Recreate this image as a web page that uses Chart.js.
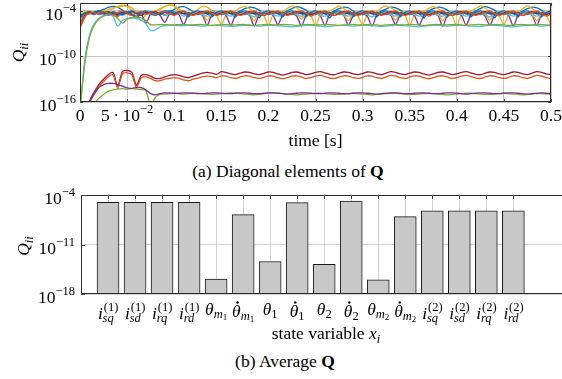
<!DOCTYPE html>
<html>
<head>
<meta charset="utf-8">
<script src="https://cdn.jsdelivr.net/npm/chart.js@4.4.1/dist/chart.umd.min.js"></script>
<style>
  html, body { margin: 0; padding: 0; background: #fff; }
  body { width: 562px; height: 379px; position: relative; overflow: hidden; font-family: "Liberation Serif", "Times New Roman", serif; }
  canvas { position: absolute; left: 0; }
  #diagChart { top: 0; }
  #avgChart { top: 185px; }
  .cap { position: absolute; font-size: 17.5px; line-height: 1; color: #000; white-space: nowrap; transform: translateX(-50%); }
</style>
</head>
<body>
<canvas id="diagChart" width="562" height="155"></canvas>
<div class="cap" style="left:288px; top:163px">(a) Diagonal elements of <b>Q</b></div>
<canvas id="avgChart" width="562" height="160"></canvas>
<div class="cap" style="left:285px; top:353px">(b) Average <b>Q</b></div>
<script>
const timeS = [0,0.005,0.01,0.015,0.02,0.025,0.03,0.035,0.04,0.045,
  0.05,0.055,0.06,0.065,0.07,0.075,0.08,0.085,0.09,0.095,
  0.1,0.105,0.11,0.115,0.12,0.125,0.13,0.135,0.14,0.145,
  0.15,0.155,0.16,0.165,0.17,0.175,0.18,0.185,0.19,0.195,
  0.2,0.205,0.21,0.215,0.22,0.225,0.23,0.235,0.24,0.245,
  0.25,0.255,0.26,0.265,0.27,0.275,0.28,0.285,0.29,0.295,
  0.3,0.305,0.31,0.315,0.32,0.325,0.33,0.335,0.34,0.345,
  0.35,0.355,0.36,0.365,0.37,0.375,0.38,0.385,0.39,0.395,
  0.4,0.405,0.41,0.415,0.42,0.425,0.43,0.435,0.44,0.445,
  0.45,0.455,0.46,0.465,0.47,0.475,0.48,0.485,0.49,0.495,0.5];

const qIsq1 = [-4.8,-4.2,-4.1,-4.1,-4.0,-3.8,-3.55,-3.4,-3.5,-3.9,-4.3,-4.1,-4.4,-4.2,-4.0,-4.3,-4.5,-4.2,-4.0,-4.1,-3.8,-3.5,
  -3.45,-3.7,-4.1,-4.3,-4.1,-4.4,-4.0,-4.2,
  -4.2,-4.4,-4.1,-4.3,-4.0,-3.7,-3.5,-3.6,-3.9,-4.3,
  -4.2,-4.4,-4.1,-4.3,-4.0,-3.7,-3.45,-3.6,-3.9,-4.3,
  -4.2,-4.5,-4.1,-4.3,-4.0,-3.7,-3.5,-3.6,-4.0,-4.3,
  -4.2,-4.4,-4.1,-4.3,-4.0,-3.75,-3.5,-3.6,-3.9,-4.3,
  -4.2,-4.4,-4.1,-4.3,-4.0,-3.7,-3.5,-3.6,-3.9,-4.3,
  -4.2,-4.5,-4.1,-4.3,-4.0,-3.7,-3.45,-3.6,-3.9,-4.3,
  -4.2,-4.4,-4.1,-4.3,-4.0,-3.7,-3.5,-3.6,-3.9,-4.3,-4.2];
const qIsd1 = [-6.3,-4.9,-4.2,-4.4,-4.1,-4.3,-4.2,-4.5,-4.8,-4.2,-4.3,-4.6,-4.2,-4.4,-4.1,-4.5,-4.3,-4.2,-4.6,-4.3,-4.1,-4.4,
  -4.15,-4.6,-4.3,-4.2,-4.5,-4.15,-4.6,-4.3,
  -4.2,-4.5,-4.15,-4.6,-4.3,-4.2,-4.5,-4.1,-4.7,-4.3,
  -4.2,-4.5,-4.15,-4.6,-4.3,-4.2,-4.5,-4.15,-4.6,-4.3,
  -4.2,-4.6,-4.15,-4.6,-4.3,-4.2,-4.5,-4.15,-4.7,-4.3,
  -4.2,-4.5,-4.1,-4.6,-4.3,-4.2,-4.5,-4.15,-4.6,-4.3,
  -4.2,-4.5,-4.15,-4.6,-4.3,-4.2,-4.6,-4.15,-4.6,-4.3,
  -4.2,-4.5,-4.15,-4.7,-4.3,-4.2,-4.5,-4.15,-4.6,-4.3,
  -4.2,-4.5,-4.15,-4.6,-4.3,-4.2,-4.5,-4.1,-4.6,-4.3,-4.2];
const qIrq1 = [-4.5,-4.3,-4.2,-4.2,-4.3,-4.2,-4.0,-3.7,-3.4,-3.25,-3.4,-3.9,-4.4,-5.3,-4.5,-4.3,-4.1,-3.8,-3.45,-3.25,-3.4,-3.9,
  -4.3,-4.4,-4.2,-3.8,-3.4,-3.5,-4.0,-4.6,
  -5.8,-4.5,-4.2,-4.0,-3.6,-3.4,-3.7,-4.1,-4.3,-4.6,
  -5.9,-4.5,-4.2,-4.1,-3.7,-3.35,-3.6,-4.1,-4.3,-4.6,
  -6.0,-4.5,-4.2,-4.0,-3.7,-3.35,-3.7,-4.1,-4.3,-4.7,
  -5.8,-4.5,-4.2,-4.1,-3.6,-3.35,-3.6,-4.0,-4.3,-4.6,
  -5.9,-4.5,-4.2,-4.1,-3.7,-3.4,-3.7,-4.1,-4.3,-4.6,
  -6.0,-4.4,-4.2,-4.0,-3.7,-3.35,-3.6,-4.1,-4.3,-4.7,
  -5.8,-4.5,-4.2,-4.1,-3.7,-3.35,-3.7,-4.1,-4.3,-4.6,-5.9];
const qIrd1 = [-5.0,-4.4,-4.3,-4.5,-4.2,-4.3,-4.6,-4.3,-4.2,-4.4,-4.3,-4.5,-4.9,-4.4,-5.6,-4.4,-4.2,-4.6,-5.5,-4.4,-4.3,-4.5,
  -5.8,-4.5,-4.2,-4.3,-4.6,-5.9,-4.5,-4.2,
  -4.3,-4.6,-5.9,-4.6,-4.2,-4.3,-4.6,-6.0,-4.5,-4.2,
  -4.3,-4.6,-5.8,-4.6,-4.2,-4.3,-4.7,-6.0,-4.6,-4.2,
  -4.3,-4.6,-5.9,-4.5,-4.2,-4.3,-4.6,-5.9,-4.6,-4.2,
  -4.3,-4.7,-6.0,-4.6,-4.2,-4.3,-4.6,-5.8,-4.5,-4.2,
  -4.3,-4.6,-5.9,-4.6,-4.2,-4.3,-4.6,-6.0,-4.6,-4.2,
  -4.3,-4.6,-5.9,-4.5,-4.2,-4.3,-4.7,-5.9,-4.6,-4.2,
  -4.3,-4.6,-6.0,-4.6,-4.2,-4.3,-4.6,-5.9,-4.5,-4.2,-4.3];
const qThm1 = [-18,-18,-17,-16.2,-15.5,-15.0,-14.6,-14.4,-14.3,-14.25,-14.3,-14.25,-14.3,-14.35,-14.5,-16.5,-15.4,-15.0,-14.95,-14.9,-14.85,-14.9,
  -14.95,-14.9,-14.85,-14.85,-14.9,-14.95,-15.0,-14.95,
  -14.9,-14.85,-14.8,-14.85,-14.9,-14.95,-15.0,-15.05,-15.0,-14.9,
  -14.85,-14.8,-14.85,-14.9,-14.95,-15.0,-15.05,-15.0,-14.95,-14.9,
  -14.85,-14.85,-14.9,-14.95,-15.0,-15.0,-14.95,-14.9,-14.85,-14.9,
  -14.95,-15.0,-15.05,-15.0,-14.95,-14.9,-14.85,-14.85,-14.9,-14.95,
  -15.0,-15.0,-14.95,-14.9,-14.85,-14.9,-14.95,-15.0,-15.05,-15.0,
  -14.95,-14.9,-14.85,-14.85,-14.9,-14.95,-15.0,-15.0,-14.95,-14.9,
  -14.85,-14.9,-14.95,-15.0,-15.05,-15.0,-14.95,-14.9,-14.9,-14.95,-15.0];
const qDthm1 = [-17,-10.5,-7.2,-5.7,-5.0,-4.6,-4.5,-4.7,-6.0,-5.3,-5.0,-4.9,-5.0,-5.2,-5.7,-6.6,-6.5,-6.1,-5.95,-5.9,-5.9,-5.95,
  -5.95,-5.9,-5.9,-5.95,-6.0,-5.95,-5.9,-5.9,
  -5.95,-6.0,-6.05,-6.0,-5.95,-5.9,-5.9,-5.95,-6.0,-5.95,
  -5.9,-5.9,-5.95,-6.0,-6.05,-6.1,-6.05,-5.95,-5.9,-5.9,
  -5.95,-6.0,-6.1,-6.05,-5.95,-5.9,-5.9,-5.95,-6.0,-5.95,
  -5.9,-5.9,-5.95,-6.0,-6.05,-6.0,-5.95,-5.9,-5.9,-5.95,
  -6.0,-6.05,-6.1,-6.0,-5.95,-5.9,-5.9,-5.95,-6.0,-5.95,
  -5.9,-5.9,-5.95,-6.0,-6.05,-6.05,-5.95,-5.9,-5.9,-5.95,
  -6.0,-6.05,-6.1,-6.0,-5.95,-5.9,-5.9,-5.95,-6.0,-5.95,-5.9];
const qTh1 = [-18,-17.5,-15.9,-14.7,-13.7,-13.0,-12.4,-12.1,-13.9,-12.0,-11.85,-12.1,-13.8,-12.5,-12.4,-12.6,-12.9,-12.9,-12.7,-12.5,-12.4,-12.5,
  -12.7,-12.8,-12.6,-12.4,-12.2,-12.1,-12.2,-12.35,
  -12.0,-12.1,-12.3,-12.4,-12.2,-12.05,-12.1,-12.3,-12.4,-12.25,
  -12.05,-12.1,-12.3,-12.45,-12.3,-12.1,-12.05,-12.2,-12.4,-12.3,
  -12.1,-12.0,-12.15,-12.35,-12.4,-12.2,-12.05,-12.1,-12.3,-12.4,
  -12.25,-12.05,-12.1,-12.3,-12.4,-12.2,-12.0,-12.1,-12.3,-12.4,
  -12.2,-12.05,-12.1,-12.3,-12.45,-12.3,-12.1,-12.05,-12.2,-12.4,
  -12.3,-12.1,-12.0,-12.15,-12.35,-12.4,-12.2,-12.05,-12.1,-12.3,
  -12.4,-12.25,-12.05,-12.1,-12.3,-12.4,-12.2,-12.0,-12.1,-12.3,-12.4];
const qDth1 = [-4.6,-4.3,-4.4,-4.2,-4.5,-4.3,-4.1,-4.3,-4.6,-4.2,-4.1,-4.4,-4.7,-4.3,-4.2,-4.4,-4.6,-4.3,-4.2,-4.5,-4.3,-4.1,
  -4.3,-4.8,-4.2,-4.5,-4.1,-4.3,-4.8,-4.2,
  -4.5,-4.1,-4.3,-4.8,-4.2,-4.5,-4.1,-4.3,-4.9,-4.2,
  -4.5,-4.1,-4.3,-4.8,-4.2,-4.5,-4.1,-4.3,-4.8,-4.2,
  -4.5,-4.1,-4.3,-4.9,-4.2,-4.5,-4.1,-4.3,-4.8,-4.2,
  -4.5,-4.1,-4.3,-4.8,-4.2,-4.5,-4.1,-4.3,-4.8,-4.2,
  -4.5,-4.1,-4.3,-4.9,-4.2,-4.5,-4.1,-4.3,-4.8,-4.2,
  -4.5,-4.1,-4.3,-4.8,-4.2,-4.5,-4.1,-4.3,-4.9,-4.2,
  -4.5,-4.1,-4.3,-4.8,-4.2,-4.5,-4.1,-4.3,-4.8,-4.2,-4.5];
const qTh2 = [-18,-17.8,-16.2,-15.0,-14.0,-13.3,-12.7,-12.4,-14.2,-12.3,-12.15,-12.4,-14.1,-12.8,-12.7,-12.9,-13.2,-13.2,-13.0,-12.9,-12.8,-12.9,
  -13.1,-13.2,-13.0,-12.85,-12.7,-12.6,-12.65,-12.8,
  -12.55,-12.6,-12.8,-12.9,-12.7,-12.55,-12.6,-12.8,-12.9,-12.75,
  -12.55,-12.6,-12.8,-12.95,-12.8,-12.6,-12.55,-12.7,-12.9,-12.8,
  -12.6,-12.5,-12.65,-12.85,-12.9,-12.7,-12.55,-12.6,-12.8,-12.9,
  -12.75,-12.55,-12.6,-12.8,-12.9,-12.7,-12.5,-12.6,-12.8,-12.9,
  -12.7,-12.55,-12.6,-12.8,-12.95,-12.8,-12.6,-12.55,-12.7,-12.9,
  -12.8,-12.6,-12.5,-12.65,-12.85,-12.9,-12.7,-12.55,-12.6,-12.8,
  -12.9,-12.75,-12.55,-12.6,-12.8,-12.9,-12.7,-12.5,-12.6,-12.8,-12.9];
const qDth2 = [-4.4,-4.1,-4.0,-4.2,-4.4,-4.0,-3.8,-3.6,-3.5,-3.4,-3.3,-3.6,-4.2,-4.5,-4.3,-4.2,-4.0,-3.7,-3.4,-3.2,-3.3,-3.7,
  -4.2,-4.4,-4.3,-4.2,-4.4,-5.2,-4.3,-4.1,
  -4.1,-4.0,-4.2,-4.4,-4.3,-4.2,-4.4,-5.3,-4.3,-4.1,
  -4.1,-4.0,-4.2,-4.4,-4.3,-4.2,-4.4,-5.1,-4.3,-4.1,
  -4.1,-4.0,-4.2,-4.4,-4.3,-4.2,-4.5,-5.3,-4.3,-4.1,
  -4.1,-4.0,-4.2,-4.4,-4.3,-4.2,-4.4,-5.2,-4.3,-4.1,
  -4.1,-4.0,-4.2,-4.4,-4.3,-4.2,-4.4,-5.3,-4.3,-4.1,
  -4.1,-4.0,-4.2,-4.4,-4.3,-4.2,-4.4,-5.2,-4.3,-4.1,
  -4.1,-4.0,-4.2,-4.4,-4.3,-4.2,-4.5,-5.3,-4.3,-4.1,-4.1];
const qThm2 = [-18,-17.5,-16.0,-14.9,-14.1,-13.7,-13.55,-13.55,-13.7,-13.9,-14.15,-14.2,-14.1,-14.1,-14.4,-14.9,-15.05,-14.9,-14.8,-14.8,-14.85,-14.85,
  -14.8,-14.8,-14.85,-14.9,-14.9,-14.85,-14.8,-14.8,
  -14.85,-14.9,-14.9,-14.85,-14.8,-14.8,-14.85,-14.9,-14.9,-14.85,
  -14.8,-14.8,-14.85,-14.9,-14.95,-14.9,-14.85,-14.8,-14.8,-14.85,
  -14.9,-14.9,-14.85,-14.8,-14.8,-14.85,-14.9,-14.9,-14.85,-14.8,
  -14.8,-14.85,-14.9,-14.95,-14.9,-14.85,-14.8,-14.8,-14.85,-14.9,
  -14.9,-14.85,-14.8,-14.8,-14.85,-14.9,-14.9,-14.85,-14.8,-14.8,
  -14.85,-14.9,-14.95,-14.9,-14.85,-14.8,-14.8,-14.85,-14.9,-14.9,
  -14.85,-14.8,-14.8,-14.85,-14.9,-14.95,-14.9,-14.85,-14.8,-14.85,-14.9];
const qDthm2 = [-17,-11,-7.5,-5.9,-5.1,-4.7,-4.5,-4.5,-5.0,-5.6,-5.1,-4.9,-4.8,-4.9,-5.3,-5.8,-5.85,-5.8,-5.8,-5.85,-5.85,-5.8,
  -5.8,-5.85,-5.85,-5.8,-5.8,-5.85,-5.9,-5.85,
  -5.8,-5.8,-5.85,-5.85,-5.8,-5.8,-5.85,-5.9,-5.85,-5.8,
  -5.8,-5.85,-5.85,-5.8,-5.8,-5.85,-5.9,-5.85,-5.8,-5.8,
  -5.85,-5.85,-5.8,-5.8,-5.85,-5.9,-5.85,-5.8,-5.8,-5.85,
  -5.85,-5.8,-5.8,-5.85,-5.9,-5.85,-5.8,-5.8,-5.85,-5.85,
  -5.8,-5.8,-5.85,-5.9,-5.85,-5.8,-5.8,-5.85,-5.85,-5.8,
  -5.8,-5.85,-5.9,-5.85,-5.8,-5.8,-5.85,-5.85,-5.8,-5.8,
  -5.85,-5.9,-5.85,-5.8,-5.8,-5.85,-5.85,-5.8,-5.8,-5.85,-5.9];
const qIsq2 = [-5.5,-4.5,-4.3,-4.4,-4.2,-4.3,-4.5,-4.3,-4.4,-4.6,-4.3,-4.2,-4.4,-4.5,-4.3,-4.4,-4.2,-4.3,-4.5,-4.4,-4.2,-4.3,
  -4.7,-4.4,-4.2,-4.3,-4.5,-4.7,-4.4,-4.2,
  -4.3,-4.5,-4.7,-4.4,-4.2,-4.3,-4.5,-4.8,-4.4,-4.2,
  -4.3,-4.5,-4.7,-4.4,-4.2,-4.3,-4.5,-4.7,-4.4,-4.2,
  -4.3,-4.6,-4.7,-4.4,-4.2,-4.3,-4.5,-4.7,-4.4,-4.2,
  -4.3,-4.5,-4.8,-4.4,-4.2,-4.3,-4.5,-4.7,-4.4,-4.2,
  -4.3,-4.5,-4.7,-4.4,-4.2,-4.3,-4.6,-4.7,-4.4,-4.2,
  -4.3,-4.5,-4.7,-4.4,-4.2,-4.3,-4.5,-4.8,-4.4,-4.2,
  -4.3,-4.5,-4.7,-4.4,-4.2,-4.3,-4.5,-4.7,-4.4,-4.2,-4.3];
const qIsd2 = [-5.8,-4.6,-4.2,-4.3,-4.1,-4.4,-4.2,-4.3,-4.5,-4.2,-4.4,-4.1,-4.3,-4.6,-4.2,-4.3,-4.1,-4.4,-4.2,-4.3,-4.5,-4.2,
  -4.4,-4.2,-4.5,-4.3,-4.1,-4.4,-4.2,-4.5,
  -4.3,-4.1,-4.4,-4.2,-4.5,-4.3,-4.1,-4.4,-4.2,-4.6,
  -4.3,-4.1,-4.4,-4.2,-4.5,-4.3,-4.1,-4.4,-4.2,-4.5,
  -4.3,-4.1,-4.4,-4.2,-4.6,-4.3,-4.1,-4.4,-4.2,-4.5,
  -4.3,-4.1,-4.4,-4.2,-4.5,-4.3,-4.1,-4.4,-4.2,-4.5,
  -4.3,-4.1,-4.4,-4.2,-4.5,-4.3,-4.1,-4.4,-4.2,-4.6,
  -4.3,-4.1,-4.4,-4.2,-4.5,-4.3,-4.1,-4.4,-4.2,-4.5,
  -4.3,-4.1,-4.4,-4.2,-4.6,-4.3,-4.1,-4.4,-4.2,-4.5,-4.3];
const qIrq2 = [-4.9,-4.3,-4.1,-4.3,-4.0,-4.2,-4.4,-4.1,-4.3,-4.5,-4.2,-4.0,-4.3,-4.2,-4.4,-4.1,-4.3,-4.5,-4.2,-4.0,-4.3,-4.1,
  -4.1,-4.5,-4.2,-4.0,-4.3,-4.1,-4.5,-4.2,
  -4.0,-4.3,-4.1,-4.5,-4.2,-4.0,-4.3,-4.1,-4.5,-4.2,
  -4.0,-4.3,-4.1,-4.6,-4.2,-4.0,-4.3,-4.1,-4.5,-4.2,
  -4.0,-4.3,-4.1,-4.5,-4.2,-4.0,-4.3,-4.1,-4.5,-4.2,
  -4.0,-4.3,-4.1,-4.5,-4.2,-4.0,-4.3,-4.1,-4.6,-4.2,
  -4.0,-4.3,-4.1,-4.5,-4.2,-4.0,-4.3,-4.1,-4.5,-4.2,
  -4.0,-4.3,-4.1,-4.5,-4.2,-4.0,-4.3,-4.1,-4.5,-4.2,
  -4.0,-4.3,-4.1,-4.6,-4.2,-4.0,-4.3,-4.1,-4.5,-4.2,-4.0];
const qIrd2 = [-6.0,-4.7,-4.3,-4.2,-4.4,-4.1,-4.3,-4.5,-4.2,-4.0,-4.3,-4.6,-4.2,-4.1,-4.4,-4.3,-4.5,-4.2,-4.1,-4.3,-4.6,-4.2,
  -4.0,-4.3,-4.6,-4.4,-4.2,-4.0,-4.3,-4.6,
  -4.4,-4.2,-4.0,-4.3,-4.6,-4.4,-4.2,-4.0,-4.3,-4.6,
  -4.4,-4.2,-4.0,-4.3,-4.6,-4.4,-4.2,-4.0,-4.3,-4.7,
  -4.4,-4.2,-4.0,-4.3,-4.6,-4.4,-4.2,-4.0,-4.3,-4.6,
  -4.4,-4.2,-4.0,-4.3,-4.6,-4.4,-4.2,-4.0,-4.3,-4.6,
  -4.4,-4.2,-4.0,-4.3,-4.7,-4.4,-4.2,-4.0,-4.3,-4.6,
  -4.4,-4.2,-4.0,-4.3,-4.6,-4.4,-4.2,-4.0,-4.3,-4.6,
  -4.4,-4.2,-4.0,-4.3,-4.6,-4.4,-4.2,-4.0,-4.3,-4.7,-4.4];

const timeTicks = [0, 0.05, 0.1, 0.15, 0.2, 0.25, 0.3, 0.35, 0.4, 0.45, 0.5];
const timeTickLabels = ['0', '5\u2009·\u200910^{−2}', '0.1', '0.15', '0.2', '0.25', '0.3', '0.35', '0.4', '0.45', '0.5'];
const diagTicks = [1e-16, 1e-10, 1e-4];
const diagTickLabels = ['10^{−16}', '10^{−10}', '10^{−4}'];

// ---- data: bottom chart ----
const stateIndex = [1, 2, 3, 4, 5, 6, 7, 8, 9, 10, 11, 12, 13, 14, 15, 16];
const stateLabels = ['i^(1)_sq', 'i^(1)_sd', 'i^(1)_rq', 'i^(1)_rd',
  'θ_m1', 'θ\u0307_m1', 'θ_1', 'θ\u0307_1', 'θ_2', 'θ\u0307_2', 'θ_m2', 'θ\u0307_m2',
  'i^(2)_sq', 'i^(2)_sd', 'i^(2)_rq', 'i^(2)_rd'];
const avgQ = [9.3e-6, 9.3e-6, 9.3e-6, 9.3e-6, 1.26e-16, 1.7e-7, 4.0e-14, 8.3e-6,
  1.6e-14, 1.4e-5, 1.0e-16, 8.9e-8, 5.6e-7, 5.6e-7, 5.6e-7, 5.6e-7];
const avgTicks = [1e-18, 1e-11, 1e-4];
const avgTickLabels = ['10^{−18}', '10^{−11}', '10^{−4}'];

// series in state order, matlab colour order
const diagSeries = [qIsq1, qIsd1, qIrq1, qIrd1, qThm1, qDthm1, qTh1, qDth1,
  qTh2, qDth2, qThm2, qDthm2, qIsq2, qIsd2, qIrq2, qIrd2];
const lineColors = ['#0072BD', '#D95319', '#EDB120', '#7E2F8E', '#77AC30', '#4DBEEE', '#A2142F'];

const SERIF = '"Liberation Serif", "Times New Roman", serif';
const F = 17.5, FS = 12.5, FSS = 9;
function font(size, style) { return (style ? style + ' ' : '') + size + 'px ' + SERIF; }

function runsOf(str) {
  const m = str.match(/^(.*)\^\{(.*)\}$/);
  if (!m) return [{t: str, f: font(F)}];
  return [{t: m[1], f: font(F)}, {t: m[2], f: font(FS), dy: -7.75}];
}

function drawRuns(ctx, runs, x, y, align) {
  let w = 0;
  runs.forEach(r => { ctx.font = r.f; r.w = ctx.measureText(r.t).width; w += r.w; });
  let cx = align === 'right' ? x - w : align === 'center' ? x - w / 2 : x;
  ctx.textAlign = 'left';
  ctx.textBaseline = 'alphabetic';
  runs.forEach(r => { ctx.font = r.f; ctx.fillText(r.t, cx, y + (r.dy || 0)); cx += r.w; });
}

function drawBox(ctx, a, sides) {
  const l = Math.round(a.left) + 0.5, r = Math.round(a.right) - 0.5;
  const t = Math.round(a.top) + 0.5, b = Math.round(a.bottom) - 0.5;
  ctx.strokeStyle = '#2b2b2b';
  ctx.lineWidth = 1;
  ctx.beginPath();
  if (sides.includes('t')) { ctx.moveTo(l, t); ctx.lineTo(r + 0.5, t); }
  if (sides.includes('b')) { ctx.moveTo(l, b); ctx.lineTo(r + 0.5, b); }
  if (sides.includes('l')) { ctx.moveTo(l, t); ctx.lineTo(l, b); }
  if (sides.includes('r')) { ctx.moveTo(r, t); ctx.lineTo(r, b); }
  ctx.stroke();
}

const diagDecor = {
  id: 'diagDecor',
  afterDraw(chart) {
    const {ctx, chartArea: a, scales: {x, y}} = chart;
    ctx.save();
    drawBox(ctx, a, 'tblr');
    ctx.strokeStyle = '#444';
    ctx.beginPath();
    timeTicks.forEach(v => {
      const px = Math.round(x.getPixelForValue(v)) + 0.5;
      ctx.moveTo(px, a.top); ctx.lineTo(px, a.top + 3);
      ctx.moveTo(px, a.bottom); ctx.lineTo(px, a.bottom - 3);
    });
    diagTicks.forEach(v => {
      const py = Math.round(y.getPixelForValue(v)) + 0.5;
      ctx.moveTo(a.left, py); ctx.lineTo(a.left + 3, py);
      ctx.moveTo(a.right, py); ctx.lineTo(a.right - 3, py);
    });
    ctx.stroke();
    ctx.fillStyle = '#000';
    timeTicks.forEach((v, i) => drawRuns(ctx, runsOf(timeTickLabels[i]), x.getPixelForValue(v), a.bottom + 19, 'center'));
    diagTicks.forEach((v, i) => drawRuns(ctx, runsOf(diagTickLabels[i]), a.left - 4, y.getPixelForValue(v) + 9, 'right'));
    drawRuns(ctx, [{t: 'time [s]', f: font(F)}], (a.left + a.right) / 2, 146, 'center');
    ctx.translate(21, (a.top + a.bottom) / 2);
    ctx.rotate(-Math.PI / 2);
    drawRuns(ctx, [{t: 'Q', f: font(F, 'italic')}, {t: 'ii', f: font(FS, 'italic'), dy: 3.5}], 0, 3, 'center');
    ctx.restore();
  }
};

function drawStateLabel(ctx, name, cx) {
  const base = name[0];
  const dot = name[1] === '\u0307';
  const supM = name.match(/\^\(([^)]*)\)/);
  const sub = name.split('_')[1];
  ctx.textAlign = 'left';
  ctx.textBaseline = 'alphabetic';
  ctx.font = font(F, 'italic');
  const bw = ctx.measureText(base).width;
  if (supM) {
    const sup = '(' + supM[1] + ')';
    ctx.font = font(FS); const supW = ctx.measureText(sup).width;
    ctx.font = font(FS, 'italic'); const subW = ctx.measureText(sub).width;
    const w = bw + 0.5 + Math.max(supW, subW);
    const x0 = cx - w / 2, yb = 134;
    ctx.font = font(F, 'italic'); ctx.fillText(base, x0, yb);
    ctx.font = font(FS); ctx.fillText(sup, x0 + bw + 0.8, yb - 8.5);
    ctx.font = font(FS, 'italic'); ctx.fillText(sub, x0 + bw - 0.3, yb + 3);
  } else {
    const yb = dot ? 131.5 : 129.5;
    const digit = /^\d$/.test(sub);
    const subMain = digit ? sub : sub[0];
    const subSub = digit ? '' : sub.slice(1);
    ctx.font = digit ? font(FS) : font(FS, 'italic');
    const sw = ctx.measureText(subMain).width;
    ctx.font = font(FSS);
    const ssw = subSub ? ctx.measureText(subSub).width : 0;
    const w = bw + sw + ssw;
    const x0 = cx - w / 2;
    ctx.font = font(F, 'italic'); ctx.fillText(base, x0, yb);
    ctx.font = digit ? font(FS) : font(FS, 'italic'); ctx.fillText(subMain, x0 + bw, yb + 3.5);
    if (subSub) { ctx.font = font(FSS); ctx.fillText(subSub, x0 + bw + sw, yb + 5.5); }
    if (dot) {
      ctx.beginPath();
      ctx.arc(x0 + bw / 2 + 1.2, yb - 14, 1.2, 0, Math.PI * 2);
      ctx.fill();
    }
  }
}

const avgDecor = {
  id: 'avgDecor',
  afterDraw(chart) {
    const {ctx, chartArea: a, scales: {x, y}} = chart;
    ctx.save();
    drawBox(ctx, a, 'tbl');
    ctx.strokeStyle = '#444';
    ctx.beginPath();
    stateIndex.forEach(v => {
      const px = Math.round(x.getPixelForValue(v)) + 0.5;
      ctx.moveTo(px, a.top); ctx.lineTo(px, a.top + 4);
    });
    avgTicks.forEach(v => {
      const py = Math.round(y.getPixelForValue(v)) + 0.5;
      ctx.moveTo(a.left, py); ctx.lineTo(a.left + 4, py);
    });
    ctx.stroke();
    ctx.fillStyle = '#000';
    stateIndex.forEach((v, i) => drawStateLabel(ctx, stateLabels[i], x.getPixelForValue(v)));
    avgTicks.forEach((v, i) => drawRuns(ctx, runsOf(avgTickLabels[i]), a.left - 6, y.getPixelForValue(v) + 9, 'right'));
    drawRuns(ctx, [{t: 'state variable ', f: font(F)}, {t: 'x', f: font(F, 'italic')}, {t: 'i', f: font(FS, 'italic'), dy: 3.5}], 326, 154, 'center');
    ctx.translate(26, 61);
    ctx.rotate(-Math.PI / 2);
    drawRuns(ctx, [{t: 'Q', f: font(F, 'italic')}, {t: 'ii', f: font(FS, 'italic'), dy: 3.5}], 0, 3, 'center');
    ctx.restore();
  }
};

new Chart(document.getElementById('diagChart'), {
  type: 'line',
  data: {
    datasets: diagSeries.map((q, i) => ({
      data: timeS.map((t, k) => ({x: t, y: Math.pow(10, q[k])})),
      borderColor: lineColors[i % lineColors.length],
      borderWidth: 1.3,
      pointRadius: 0,
      tension: 0.25,
      fill: false,
      order: -i
    }))
  },
  options: {
    responsive: false,
    animation: false,
    layout: {padding: {left: 80, right: 11, top: 3, bottom: 53}},
    plugins: {legend: {display: false}, tooltip: {enabled: false}},
    scales: {
      x: {
        type: 'linear', min: 0, max: 0.5,
        afterBuildTicks: s => { s.ticks = timeTicks.map(v => ({value: v})); },
        ticks: {display: false},
        grid: {color: '#c8c8c8', drawTicks: false},
        border: {display: false}
      },
      y: {
        type: 'logarithmic', min: 1e-16, max: 1.1e-3,
        afterBuildTicks: s => { s.ticks = diagTicks.map(v => ({value: v})); },
        ticks: {display: false},
        grid: {color: '#c8c8c8', drawTicks: false},
        border: {display: false}
      }
    }
  },
  plugins: [diagDecor]
});

new Chart(document.getElementById('avgChart'), {
  type: 'bar',
  data: {
    datasets: [{
      data: stateIndex.map((v, i) => ({x: v, y: avgQ[i]})),
      backgroundColor: '#c8c8c8',
      borderColor: '#1a1a1a',
      borderWidth: 1,
      borderSkipped: false,
      barThickness: 22
    }]
  },
  options: {
    responsive: false,
    animation: false,
    layout: {padding: {left: 81, right: 0, top: 10, bottom: 51}},
    plugins: {legend: {display: false}, tooltip: {enabled: false}},
    scales: {
      x: {
        type: 'linear', min: 0, max: 17.8, offset: false,
        afterBuildTicks: s => { s.ticks = stateIndex.map(v => ({value: v})); },
        ticks: {display: false},
        grid: {color: '#d2d2d2', drawTicks: false, offset: false},
        border: {display: false}
      },
      y: {
        type: 'logarithmic', min: 1e-18, max: 1e-4,
        afterBuildTicks: s => { s.ticks = avgTicks.map(v => ({value: v})); },
        ticks: {display: false},
        grid: {color: '#d2d2d2', drawTicks: false},
        border: {display: false}
      }
    }
  },
  plugins: [avgDecor]
});
</script>
</body>
</html>
